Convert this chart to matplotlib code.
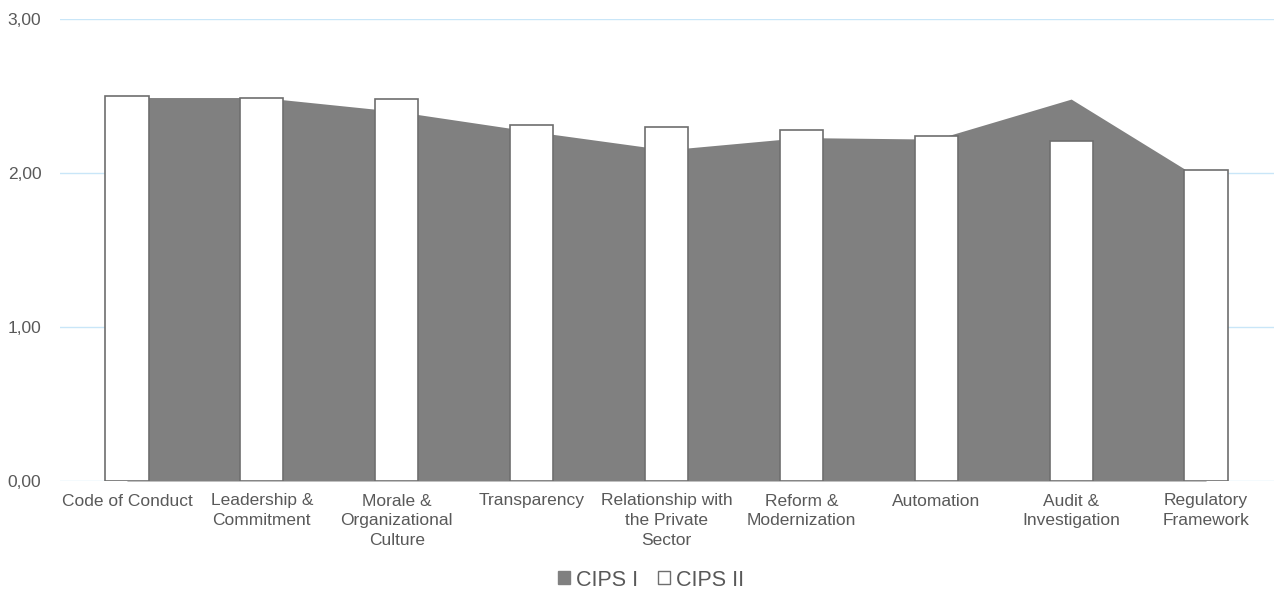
import matplotlib.pyplot as plt
import numpy as np
from matplotlib.patches import Patch
from matplotlib.ticker import FuncFormatter

plt.rcParams['font.family'] = ['Liberation Sans', 'DejaVu Sans']

categories = ["Code of Conduct", "Leadership &\nCommitment", "Morale &\nOrganizational\nCulture",
              "Transparency", "Relationship with\nthe Private\nSector", "Reform &\nModernization",
              "Automation", "Audit &\nInvestigation", "Regulatory\nFramework"]
cips1 = [2.49, 2.49, 2.40, 2.27, 2.15, 2.23, 2.22, 2.48, 1.94]
cips2 = [2.50, 2.49, 2.48, 2.31, 2.30, 2.28, 2.24, 2.21, 2.02]
yticks = [0, 1, 2, 3]

fig = plt.figure(figsize=(12.82, 5.90), dpi=100)
ax = fig.add_axes([59.5 / 1282, 109 / 590, 1214 / 1282, 462 / 590])

x = np.arange(len(categories))

# gridlines
for t in yticks:
    ax.axhline(t, color="#c9e6f8", lw=1.0, zorder=0)

# CIPS I as area, CIPS II as bars on top
ax.fill_between(x, 0, cips1, color="#808080", lw=0, zorder=1)
ax.bar(x, cips2, width=0.32, color="white", edgecolor="#6e6e6e", lw=1.2, zorder=2)

ax.set_xlim(-0.5, len(categories) - 0.5)
ax.set_ylim(0, 3)
ax.set_yticks(yticks)
ax.yaxis.set_major_formatter(FuncFormatter(lambda v, p: f"{v:.2f}".replace(".", ",")))
ax.set_xticks(x)
ax.set_xticklabels(categories, linespacing=1.4)
ax.tick_params(axis="both", length=0, colors="#595959", labelsize=12.5)
ax.tick_params(axis="x", pad=9)
ax.tick_params(axis="y", pad=13)
for s in ax.spines.values():
    s.set_visible(False)

handles = [Patch(facecolor="#808080", edgecolor="#808080", label="CIPS I"),
           Patch(facecolor="white", edgecolor="#6e6e6e", label="CIPS II")]
fig.legend(handles=handles, loc="center", bbox_to_anchor=(651 / 1282, 1 - 580 / 590),
           ncol=2, frameon=False, fontsize=15.5, handlelength=0.55, handleheight=0.55,
           handletextpad=0.3, columnspacing=0.9, labelcolor="#595959")

fig.savefig("out.png", dpi=100)
